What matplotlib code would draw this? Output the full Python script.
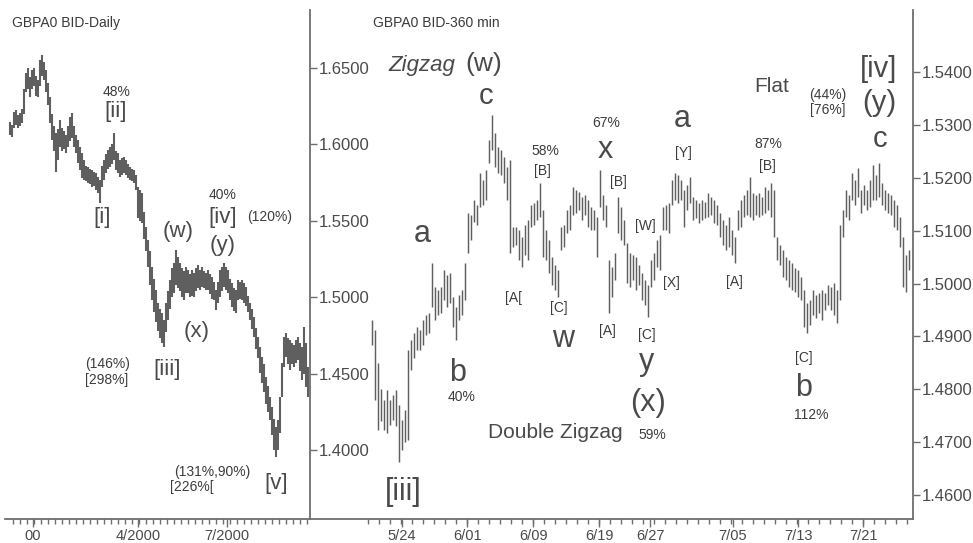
import numpy as np
import matplotlib
matplotlib.use("Agg")
import matplotlib.pyplot as plt
from matplotlib.ticker import FixedLocator, FormatStrFormatter

plt.rcParams['font.family'] = ['Liberation Sans', 'DejaVu Sans']

# ---------------- daily bars (high / low) ----------------
daily_high = [
    1.6150, 1.6130, 1.6210, 1.6225, 1.6190, 1.6205, 1.6230, 1.6360, 1.6470, 1.6500,
    1.6440, 1.6490, 1.6500, 1.6450, 1.6420, 1.6550, 1.6585, 1.6540, 1.6490, 1.6400,
    1.6310, 1.6200, 1.6120, 1.6075, 1.6100, 1.6160, 1.6110, 1.6090, 1.6060, 1.6120,
    1.6180, 1.6205, 1.6120, 1.6060, 1.6029, 1.5980, 1.5944, 1.5900, 1.5860, 1.5852,
    1.5840, 1.5832, 1.5820, 1.5813, 1.5790, 1.5767, 1.5860, 1.5898, 1.5940, 1.5963,
    1.5983, 1.6000, 1.6075, 1.5960, 1.5944, 1.5898, 1.5910, 1.5918, 1.5900, 1.5870,
    1.5852, 1.5840, 1.5832, 1.5800, 1.5720, 1.5700, 1.5682, 1.5560, 1.5460, 1.5374,
    1.5300, 1.5198, 1.5120, 1.5050, 1.4962, 1.4920, 1.4896, 1.4851, 1.4960, 1.5040,
    1.5113, 1.5190, 1.5224, 1.5309, 1.5260, 1.5224, 1.5190, 1.5170, 1.5198, 1.5180,
    1.5150, 1.5178, 1.5160, 1.5190, 1.5211, 1.5180, 1.5198, 1.5170, 1.5160, 1.5178,
    1.5150, 1.5132, 1.5100, 1.5047, 1.5100, 1.5178, 1.5200, 1.5224, 1.5200, 1.5178,
    1.5120, 1.5093, 1.5060, 1.5047, 1.5113, 1.5100, 1.5113, 1.5090, 1.5067, 1.5010,
    1.4962, 1.4920, 1.4870, 1.4800, 1.4740, 1.4674, 1.4610, 1.4560, 1.4480, 1.4420,
    1.4347, 1.4280, 1.4200, 1.4150, 1.4196, 1.4347, 1.4569, 1.4740, 1.4766, 1.4730,
    1.4720, 1.4700, 1.4690, 1.4720, 1.4740, 1.4700, 1.4674, 1.4805, 1.4700, 1.4543,
]
daily_low = [
    1.6060, 1.6050, 1.6110, 1.6130, 1.6110, 1.6120, 1.6140, 1.6200, 1.6340, 1.6360,
    1.6310, 1.6360, 1.6380, 1.6320, 1.6310, 1.6380, 1.6450, 1.6420, 1.6340, 1.6260,
    1.6140, 1.6030, 1.5960, 1.5820, 1.5900, 1.5980, 1.5960, 1.5970, 1.5944, 1.5980,
    1.6020, 1.6040, 1.5980, 1.5944, 1.5880, 1.5830, 1.5780, 1.5770, 1.5760, 1.5750,
    1.5740, 1.5721, 1.5730, 1.5702, 1.5680, 1.5616, 1.5720, 1.5767, 1.5813, 1.5840,
    1.5852, 1.5870, 1.5900, 1.5830, 1.5813, 1.5787, 1.5800, 1.5813, 1.5800, 1.5780,
    1.5767, 1.5760, 1.5747, 1.5700, 1.5520, 1.5500, 1.5485, 1.5380, 1.5300, 1.5200,
    1.5080, 1.4982, 1.4900, 1.4840, 1.4780, 1.4730, 1.4700, 1.4674, 1.4770, 1.4850,
    1.4920, 1.5000, 1.5030, 1.5080, 1.5060, 1.5040, 1.5000, 1.4982, 1.5030, 1.5027,
    1.5000, 1.5010, 1.5001, 1.5040, 1.5060, 1.5047, 1.5067, 1.5060, 1.5050, 1.5047,
    1.5020, 1.4990, 1.4982, 1.4916, 1.4960, 1.5001, 1.5040, 1.5067, 1.5050, 1.5027,
    1.4980, 1.4936, 1.4910, 1.4896, 1.4982, 1.4990, 1.4982, 1.4960, 1.4940, 1.4900,
    1.4851, 1.4790, 1.4740, 1.4660, 1.4600, 1.4504, 1.4440, 1.4380, 1.4300, 1.4250,
    1.4196, 1.4100, 1.4000, 1.3954, 1.4000, 1.4111, 1.4347, 1.4543, 1.4609, 1.4560,
    1.4524, 1.4560, 1.4543, 1.4570, 1.4589, 1.4520, 1.4458, 1.4500, 1.4412, 1.4347,
]

# ---------------- 360-minute bars (high / low) ----------------
h6_high = [
    1.4931, 1.4912, 1.4850, 1.4800, 1.4780, 1.4799, 1.4780, 1.4790, 1.4799, 1.4770,
    1.4742, 1.4761, 1.4875, 1.4893, 1.4906, 1.4918, 1.4912, 1.4931, 1.4940, 1.4944,
    1.5039, 1.4994, 1.4988, 1.4994, 1.5026, 1.5016, 1.5020, 1.4975, 1.4956, 1.4978,
    1.4988, 1.5039, 1.5133, 1.5130, 1.5158, 1.5149, 1.5209, 1.5196, 1.5215, 1.5271,
    1.5319, 1.5285, 1.5258, 1.5253, 1.5239, 1.5220, 1.5234, 1.5107, 1.5107, 1.5101,
    1.5088, 1.5111, 1.5120, 1.5149, 1.5152, 1.5158, 1.5190, 1.5139, 1.5101, 1.5082,
    1.5050, 1.5035, 1.5026, 1.5107, 1.5111, 1.5139, 1.5149, 1.5183, 1.5177, 1.5173,
    1.5164, 1.5167, 1.5158, 1.5145, 1.5139, 1.5126, 1.5215, 1.5167, 1.5149, 1.5045,
    1.5031, 1.5058, 1.5164, 1.5145, 1.5120, 1.5077, 1.5058, 1.5054, 1.5050, 1.5035,
    1.5020, 1.5007, 1.4997, 1.5045, 1.5058, 1.5082, 1.5092, 1.5145, 1.5149, 1.5152,
    1.5196, 1.5209, 1.5205, 1.5196, 1.5177, 1.5186, 1.5201, 1.5164, 1.5158, 1.5152,
    1.5158, 1.5154, 1.5171, 1.5164, 1.5158, 1.5149, 1.5133, 1.5120, 1.5111, 1.5126,
    1.5101, 1.5088, 1.5139, 1.5158, 1.5167, 1.5177, 1.5201, 1.5171, 1.5167, 1.5171,
    1.5164, 1.5183, 1.5177, 1.5190, 1.5177, 1.5088, 1.5073, 1.5064, 1.5050, 1.5045,
    1.5039, 1.5029, 1.5026, 1.5012, 1.4988, 1.4963, 1.4969, 1.4988, 1.4978, 1.4982,
    1.4988, 1.4982, 1.4997, 1.4994, 1.5001, 1.4988, 1.5111, 1.5139, 1.5177, 1.5167,
    1.5209, 1.5196, 1.5218, 1.5177, 1.5186, 1.5177, 1.5196, 1.5224, 1.5205, 1.5228,
    1.5190, 1.5177, 1.5171, 1.5167, 1.5158, 1.5149, 1.5126, 1.5088, 1.5054, 1.5064,
]
h6_low = [
    1.4884, 1.4780, 1.4723, 1.4740, 1.4723, 1.4718, 1.4733, 1.4742, 1.4730, 1.4663,
    1.4686, 1.4700, 1.4704, 1.4837, 1.4860, 1.4875, 1.4875, 1.4884, 1.4903, 1.4906,
    1.4956, 1.4931, 1.4940, 1.4944, 1.4969, 1.4956, 1.4963, 1.4918, 1.4893, 1.4931,
    1.4940, 1.4969, 1.5058, 1.5082, 1.5116, 1.5111, 1.5145, 1.5149, 1.5158, 1.5228,
    1.5253, 1.5220, 1.5209, 1.5205, 1.5190, 1.5158, 1.5058, 1.5069, 1.5073, 1.5045,
    1.5031, 1.5054, 1.5045, 1.5107, 1.5111, 1.5120, 1.5126, 1.5050, 1.5045, 1.5020,
    1.4997, 1.4988, 1.4975, 1.5064, 1.5069, 1.5096, 1.5101, 1.5130, 1.5133, 1.5139,
    1.5120, 1.5130, 1.5107, 1.5101, 1.5101, 1.5050, 1.5145, 1.5120, 1.5107, 1.4944,
    1.4975, 1.5007, 1.5096, 1.5082, 1.5073, 1.5001, 1.4994, 1.5007, 1.4988, 1.4997,
    1.4969, 1.4959, 1.4937, 1.4994, 1.5007, 1.5031, 1.5026, 1.5101, 1.5101, 1.5096,
    1.5149, 1.5158, 1.5152, 1.5158, 1.5107, 1.5139, 1.5152, 1.5120, 1.5124, 1.5115,
    1.5120, 1.5124, 1.5126, 1.5130, 1.5115, 1.5111, 1.5088, 1.5073, 1.5064, 1.5069,
    1.5054, 1.5039, 1.5101, 1.5107, 1.5126, 1.5130, 1.5126, 1.5120, 1.5130, 1.5126,
    1.5130, 1.5133, 1.5139, 1.5126, 1.5088, 1.5045, 1.5035, 1.5012, 1.5007, 1.4994,
    1.4988, 1.4984, 1.4975, 1.4969, 1.4918, 1.4907, 1.4922, 1.4940, 1.4935, 1.4944,
    1.4931, 1.4950, 1.4959, 1.4950, 1.4941, 1.4926, 1.4969, 1.5088, 1.5126, 1.5120,
    1.5158, 1.5149, 1.5164, 1.5133, 1.5149, 1.5139, 1.5145, 1.5158, 1.5158, 1.5164,
    1.5149, 1.5139, 1.5133, 1.5130, 1.5107, 1.5101, 1.5069, 1.4994, 1.4984, 1.5026,
]

# axis labels
daily_yticks = [1.40, 1.45, 1.50, 1.55, 1.60, 1.65]
h6_yticks = [1.46, 1.47, 1.48, 1.49, 1.50, 1.51, 1.52, 1.53, 1.54]
daily_xlabels = ["00", "4/2000", "7/2000"]
h6_xlabels = ["5/24", "6/01", "6/09", "6/19", "6/27", "7/05", "7/13", "7/21"]

# bar-index positions of the date labels
daily_xlabel_pos = [11.5, 64.0, 108.5]
h6_xlabel_pos = [10.0, 31.7, 53.7, 75.7, 92.7, 120.3, 142.0, 163.7]

W, H = 973, 543
INK = '#4a4a4a'
SMALL_INK = '#3c3c3c'
BAR = '#5f5f5f'
AXIS = '#6e6e6e'

fig = plt.figure(figsize=(W / 100, H / 100), dpi=100)
fig.patch.set_facecolor('white')

bottom = 1 - 519 / H
height = 509 / H
ax1 = fig.add_axes([5 / W, bottom, 305 / W, height])
ax2 = fig.add_axes([310 / W, bottom, 603 / W, height])
ax2.set_facecolor('none')

# bars
x1 = np.arange(len(daily_high))
ax1.vlines(x1, daily_low, daily_high, color=BAR, linewidth=1.5)
x2 = np.arange(len(h6_high))
ax2.vlines(x2, h6_low, h6_high, color=BAR, linewidth=1.05)

ax1.set_xlim(-2.5, 150)
ax1.set_ylim(1.3548, 1.6880)
ax2.set_xlim(-20.67, 180.33)
ax2.set_ylim(1.4555, 1.5517)

for ax in (ax1, ax2):
    ax.spines['left'].set_visible(False)
    ax.spines['top'].set_visible(False)
    for s in ('right', 'bottom'):
        ax.spines[s].set_color(AXIS)
        ax.spines[s].set_linewidth(1.3)
    ax.yaxis.tick_right()
    ax.yaxis.set_major_formatter(FormatStrFormatter('%.4f'))
    ax.tick_params(axis='y', direction='out', length=5, width=1.0, pad=1,
                   colors=AXIS, labelcolor=INK, labelsize=12)
    ax.tick_params(axis='x', which='major', direction='out', length=6, width=1.0,
                   pad=1.5, colors=AXIS, labelcolor=INK, labelsize=10.5)
    ax.tick_params(axis='x', which='minor', direction='out', length=3.5,
                   width=1.0, colors=AXIS)

ax1.set_yticks(daily_yticks)
ax2.set_yticks(h6_yticks)

ax1.set_xticks(daily_xlabel_pos, daily_xlabels)
ax1.xaxis.set_minor_locator(FixedLocator(np.arange(1.5, 150, 3.5)))
ax2.set_xticks(h6_xlabel_pos, h6_xlabels)
ax2.xaxis.set_minor_locator(FixedLocator(np.arange(-1.5, 180, 11 / 3)))


def note(px, py, s, size, color=INK, **kw):
    fig.text(px / W, 1 - py / H, s, fontsize=size, color=color,
             ha='center', va='center', **kw)


# titles
fig.text(12 / W, 1 - 23 / H, "GBPA0 BID-Daily", fontsize=10, color='#3a3a3a',
         ha='left', va='center')
fig.text(373 / W, 1 - 23 / H, "GBPA0 BID-360 min", fontsize=10, color='#3a3a3a',
         ha='left', va='center')

# wave labels, daily chart
note(117, 92, "48%", 10, SMALL_INK)
note(116, 112, "[ii]", 16)
note(102, 217, "[i]", 16)
note(178, 232, "(w)", 16)
note(223, 195, "40%", 10, SMALL_INK)
note(223, 218, "[iv]", 16)
note(270, 217, "(120%)", 10, SMALL_INK)
note(223, 246, "(y)", 16)
note(197, 332, "(x)", 16)
note(108, 364, "(146%)", 10, SMALL_INK)
note(107, 380, "[298%]", 10, SMALL_INK)
note(167, 369, "[iii]", 16)
note(212, 472, "(131%,90%)", 10, SMALL_INK)
note(192, 487, "[226%[", 10, SMALL_INK)
note(276, 484, "[v]", 16)

# wave labels, 360-minute chart
note(422, 65, "Zigzag", 16, style='italic')
note(484, 64, "(w)", 19)
note(486, 96, "c", 21)
note(422, 234, "a", 22)
note(458, 373, "b", 22)
note(462, 397, "40%", 10, SMALL_INK)
note(403, 492, "[iii]", 22)
note(545, 151, "58%", 10, SMALL_INK)
note(542, 171, "[B]", 10, SMALL_INK)
note(606, 123, "67%", 10, SMALL_INK)
note(605, 150, "x", 22)
note(618, 182, "[B]", 10, SMALL_INK)
note(514, 298, "[A[", 10, SMALL_INK)
note(559, 308, "[C]", 10, SMALL_INK)
note(563, 339, "w", 22)
note(607, 331, "[A]", 10, SMALL_INK)
note(645, 226, "[W]", 10, SMALL_INK)
note(671, 283, "[X]", 10, SMALL_INK)
note(647, 335, "[C]", 10, SMALL_INK)
note(647, 362, "y", 22)
note(648, 403, "(x)", 22)
note(652, 435, "59%", 10, SMALL_INK)
note(555, 432, "Double Zigzag", 15)
note(682, 119, "a", 22)
note(683, 153, "[Y]", 10, SMALL_INK)
note(772, 87, "Flat", 15)
note(768, 144, "87%", 10, SMALL_INK)
note(767, 166, "[B]", 10, SMALL_INK)
note(828, 95, "(44%)", 10, SMALL_INK)
note(828, 110, "[76%]", 10, SMALL_INK)
note(879, 69, "[iv]", 21)
note(879, 103, "(y)", 21)
note(880, 139, "c", 21)
note(734, 282, "[A]", 10, SMALL_INK)
note(804, 358, "[C]", 10, SMALL_INK)
note(804, 388, "b", 22)
note(811, 415, "112%", 10, SMALL_INK)

fig.savefig("out.png", dpi=100, facecolor='white')
